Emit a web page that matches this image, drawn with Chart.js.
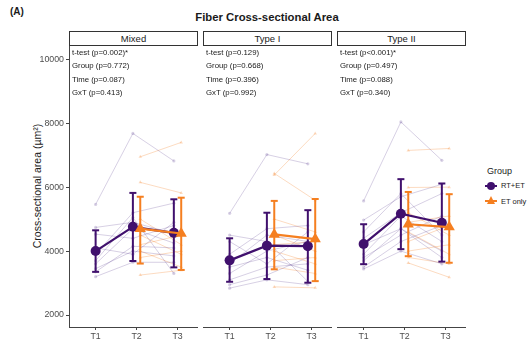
<!DOCTYPE html>
<html>
<head>
<meta charset="utf-8">
<script src="https://cdn.jsdelivr.net/npm/chart.js@4"></script>
<style>
body { margin:0; width:530px; height:346px; background:#fff; position:relative; overflow:hidden; font-family:"Liberation Sans", Arial, sans-serif; color:#1a1a1a; }
canvas { position:absolute; }
.txt { position:absolute; white-space:nowrap; }
.strip { position:absolute; top:31px; height:15px; width:129px; box-sizing:border-box; border:1px solid #333; text-align:center; font-size:9.5px; line-height:13px; color:#1a1a1a; background:#fff; }
.note { position:absolute; top:46px; font-size:7.8px; line-height:13.3px; color:#1a1a1a; white-space:nowrap; }
</style>
</head>
<body>
<div class="txt" style="left:10px;top:6px;font-size:10px;font-weight:bold;">(A)</div>
<div class="txt" id="title" style="left:267px;top:11px;font-size:11.3px;font-weight:bold;transform:translateX(-50%);">Fiber Cross-sectional Area</div>
<div class="txt" style="left:37px;top:186px;font-size:10.5px;color:#222;transform:translate(-50%,-50%) rotate(-90deg);">Cross-sectional area (µm²)</div>

<canvas id="p0" width="168" height="299" style="left:30px;top:46px;"></canvas>
<canvas id="p1" width="129" height="299" style="left:203px;top:46px;"></canvas>
<canvas id="p2" width="129" height="299" style="left:337px;top:46px;"></canvas>

<div id="strips"></div>

<div class="txt" style="left:487px;top:166px;font-size:9px;">Group</div>
<div style="position:absolute;left:485px;top:184.5px;width:12px;height:2px;background:#40106d;"></div>
<div style="position:absolute;left:487px;top:181.5px;width:8px;height:8px;border-radius:50%;background:#40106d;"></div>
<div class="txt" style="left:501px;top:181px;font-size:7.5px;">RT+ET</div>
<div style="position:absolute;left:485px;top:200px;width:12px;height:2px;background:#f57f20;"></div>
<div style="position:absolute;left:486.5px;top:196px;width:0;height:0;border-left:4.5px solid transparent;border-right:4.5px solid transparent;border-bottom:8px solid #f57f20;"></div>
<div class="txt" style="left:501px;top:196.5px;font-size:7.5px;">ET only</div>

<script>
const timepoints = ['T1', 'T2', 'T3'];
const panelNames = ['Mixed', 'Type I', 'Type II'];
const panelNotes = [
  ['t-test (p=0.002)*', 'Group (p=0.772)', 'Time (p=0.087)', 'GxT (p=0.413)'],
  ['t-test (p=0.129)', 'Group (p=0.668)', 'Time (p=0.396)', 'GxT (p=0.992)'],
  ['t-test (p<0.001)*', 'Group (p=0.497)', 'Time (p=0.088)', 'GxT (p=0.340)']
];
const yTicks = [2000, 4000, 6000, 8000, 10000];

// individual subjects, RT+ET: T1, T2, T3
const rtEtMixed = [
  [5460, 7680, 6820], [4740, 4900, 4550], [4530, 4400, 4800], [3900, 5200, 5500], [3700, 5050, 3300],
  [3600, 4700, 4250], [3450, 4000, 3850], [3350, 4150, 4100], [3200, 3650, 3650], [4100, 3900, 4900]
];
const rtEtTypeI = [
  [5180, 7020, 6730], [4500, 4300, 3050], [4300, 3600, 4600], [3900, 4700, 4800], [3600, 4500, 4300],
  [3500, 3800, 3400], [3300, 4000, 4300], [3100, 3500, 3600], [2950, 3250, 3800], [2840, 3100, 2950]
];
const rtEtTypeII = [
  [5570, 8040, 6840], [4970, 5700, 6090], [4600, 5800, 4500], [4400, 5200, 5800], [4200, 4700, 3800],
  [3900, 5100, 4300], [3800, 4500, 5100], [3700, 4700, 4000], [3500, 4300, 4800], [3440, 4000, 3600]
];
// individual subjects, ET only: T2, T3
const etMixed = [
  [6950, 7400], [6150, 5820], [5000, 4200], [4700, 4500], [4500, 3900],
  [4200, 4500], [4000, 3500], [3800, 4000], [3250, 3400]
];
const etTypeI = [
  [6380, 7680], [6430, 5590], [5000, 4600], [4500, 4000], [4200, 4300],
  [4000, 3600], [3700, 3800], [3500, 3300], [2880, 2850]
];
const etTypeII = [
  [7150, 7210], [5990, 6000], [5200, 4500], [4900, 5100], [4600, 3900],
  [4300, 4800], [4000, 4200], [3800, 3600], [3630, 3180]
];

// group means and error bars (per panel: T1, T2, T3)
const rtEtMean = [[4000, 4760, 4570], [3710, 4170, 4155], [4220, 5170, 4885]];
const rtEtLow  = [[3350, 3690, 3490], [3040, 3125, 3010], [3590, 4060, 3670]];
const rtEtHigh = [[4650, 5820, 5620], [4400, 5200, 5280], [4840, 6250, 6115]];
const etMean = [[null, 4700, 4550], [null, 4520, 4375], [null, 4840, 4750]];
const etLow  = [[null, 3610, 3410], [null, 3430, 3060], [null, 3840, 3635]];
const etHigh = [[null, 5700, 5670], [null, 5570, 5630], [null, 5850, 5780]];

const rtEtSubjects = [rtEtMixed, rtEtTypeI, rtEtTypeII];
const etSubjects = [etMixed, etTypeI, etTypeII];

const purple = '#40106d';
const orange = '#f57f20';
const purpleFaint = 'rgba(75,40,130,0.22)';
const orangeFaint = 'rgba(245,127,32,0.28)';
const dodge = 0.09;
const fontFam = '"Liberation Sans", Arial, sans-serif';

// strips and annotation text
const panelLeft = [69, 203, 337];
let html = '';
panelNames.forEach((n, i) => {
  html += '<div class="strip" style="left:' + panelLeft[i] + 'px">' + n + '</div>';
  html += '<div class="note" style="left:' + (panelLeft[i] + 3) + 'px">' +
    panelNotes[i].map(s => s.replace('<', '&lt;')).join('<br>') + '</div>';
});
document.getElementById('strips').innerHTML = html;

function xPos(i, grp) {
  if (i === 0) return 1;
  return i + 1 + (grp === 'rt' ? -dodge : dodge);
}

function buildPanel(p) {
  const datasets = [];
  rtEtSubjects[p].forEach(s => {
    datasets.push({
      data: s.map((v, i) => ({ x: xPos(i, 'rt'), y: v })),
      borderColor: purpleFaint, backgroundColor: purpleFaint,
      borderWidth: 1, pointRadius: 1.6, pointBorderWidth: 0, order: 10
    });
  });
  etSubjects[p].forEach(s => {
    datasets.push({
      data: s.map((v, i) => ({ x: xPos(i + 1, 'et'), y: v })),
      borderColor: orangeFaint, backgroundColor: orangeFaint,
      borderWidth: 1, pointStyle: 'triangle', pointRadius: 2, pointBorderWidth: 0, order: 10
    });
  });
  // error bars
  [0, 1, 2].forEach(i => {
    datasets.push({
      data: [{ x: xPos(i, 'rt'), y: rtEtLow[p][i] }, { x: xPos(i, 'rt'), y: rtEtHigh[p][i] }],
      borderColor: purple, backgroundColor: purple, borderWidth: 2,
      pointStyle: 'line', pointRadius: 3.5, pointBorderWidth: 2, order: 3
    });
    if (etMean[p][i] !== null) {
      datasets.push({
        data: [{ x: xPos(i, 'et'), y: etLow[p][i] }, { x: xPos(i, 'et'), y: etHigh[p][i] }],
        borderColor: orange, backgroundColor: orange, borderWidth: 2,
        pointStyle: 'line', pointRadius: 3.5, pointBorderWidth: 2, order: 2
      });
    }
  });
  // means
  datasets.push({
    data: rtEtMean[p].map((v, i) => ({ x: xPos(i, 'rt'), y: v })),
    borderColor: purple, backgroundColor: purple, borderWidth: 2.2,
    pointStyle: 'circle', pointRadius: 5, pointBorderWidth: 0, order: 1
  });
  datasets.push({
    data: etMean[p].map((v, i) => v === null ? null : ({ x: xPos(i, 'et'), y: v })).filter(d => d),
    borderColor: orange, backgroundColor: orange, borderWidth: 2.2,
    pointStyle: 'triangle', pointRadius: 6.5, pointBorderWidth: 0, order: 0
  });

  new Chart(document.getElementById('p' + p), {
    type: 'line',
    data: { datasets: datasets },
    options: {
      responsive: false,
      animation: false,
      events: [],
      layout: { padding: 0, autoPadding: false },
      plugins: { legend: { display: false }, tooltip: { enabled: false } },
      scales: {
        x: {
          type: 'linear', min: 0.35, max: 3.5,
          afterBuildTicks: s => { s.ticks = [1, 2, 3].map(v => ({ value: v })); },
          afterFit: s => { s.height = 18; s.paddingLeft = 0; s.paddingRight = 0; },
          ticks: { callback: v => timepoints[v - 1], color: '#4d4d4d', padding: 1, maxRotation: 0,
                   font: { size: 8.8, family: fontFam } },
          grid: { drawOnChartArea: false, drawTicks: true, tickLength: 3, color: '#444' },
          border: { color: '#444', width: 1 }
        },
        y: {
          display: p === 0,
          min: 1625, max: 10416,
          afterBuildTicks: s => { s.ticks = yTicks.map(v => ({ value: v })); },
          afterFit: s => { s.width = p === 0 ? 39 : 0; s.paddingTop = 0; s.paddingBottom = 0; },
          ticks: { callback: v => String(v), color: '#4d4d4d', padding: 2,
                   font: { size: 8.8, family: fontFam } },
          grid: { drawOnChartArea: false, drawTicks: true, tickLength: 3, color: '#444' },
          border: { color: '#444', width: 1 }
        }
      }
    }
  });
}

[0, 1, 2].forEach(buildPanel);
</script>
</body>
</html>
